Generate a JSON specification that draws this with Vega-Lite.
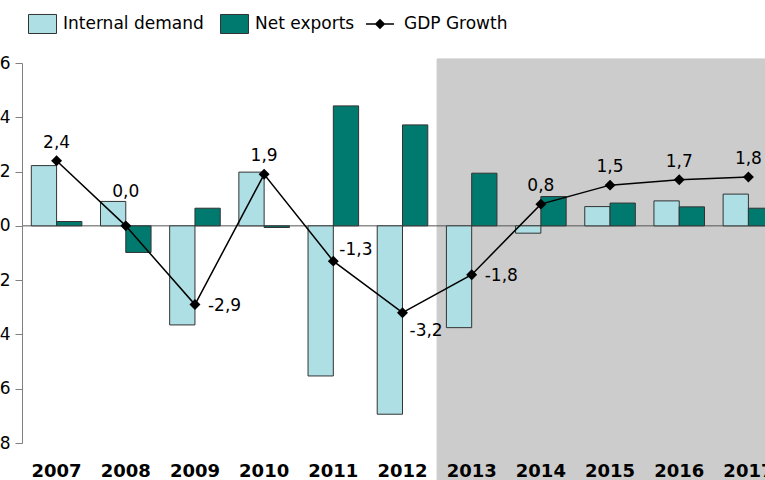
{
  "$schema": "https://vega.github.io/schema/vega-lite/v6.json",
  "width": 743,
  "height": 380,
  "autosize": {"type": "none"},
  "padding": {"left": 22, "top": 63, "right": 0, "bottom": 37},
  "config": {
    "locale": {"number": {"decimal": ",", "thousands": ".", "grouping": [3], "currency": ["", " €"], "minus": "-"}},
    "view": {"stroke": null},
    "font": "DejaVu Sans",
    "axis": {"grid": false}
  },
  "datasets": {
    "bars": [
      {"year": "2007", "series": "Internal demand", "value": 2.22},
      {"year": "2007", "series": "Net exports", "value": 0.16},
      {"year": "2008", "series": "Internal demand", "value": 0.9},
      {"year": "2008", "series": "Net exports", "value": -0.98},
      {"year": "2009", "series": "Internal demand", "value": -3.65},
      {"year": "2009", "series": "Net exports", "value": 0.65},
      {"year": "2010", "series": "Internal demand", "value": 1.98},
      {"year": "2010", "series": "Net exports", "value": -0.06},
      {"year": "2011", "series": "Internal demand", "value": -5.53},
      {"year": "2011", "series": "Net exports", "value": 4.42},
      {"year": "2012", "series": "Internal demand", "value": -6.94},
      {"year": "2012", "series": "Net exports", "value": 3.72},
      {"year": "2013", "series": "Internal demand", "value": -3.75},
      {"year": "2013", "series": "Net exports", "value": 1.94},
      {"year": "2014", "series": "Internal demand", "value": -0.27},
      {"year": "2014", "series": "Net exports", "value": 1.08},
      {"year": "2015", "series": "Internal demand", "value": 0.71},
      {"year": "2015", "series": "Net exports", "value": 0.84},
      {"year": "2016", "series": "Internal demand", "value": 0.92},
      {"year": "2016", "series": "Net exports", "value": 0.7},
      {"year": "2017", "series": "Internal demand", "value": 1.17},
      {"year": "2017", "series": "Net exports", "value": 0.65}
    ],
    "gdp": [
      {"year": "2007", "value": 2.4},
      {"year": "2008", "value": 0.0},
      {"year": "2009", "value": -2.9},
      {"year": "2010", "value": 1.9},
      {"year": "2011", "value": -1.3},
      {"year": "2012", "value": -3.2},
      {"year": "2013", "value": -1.8},
      {"year": "2014", "value": 0.8},
      {"year": "2015", "value": 1.5},
      {"year": "2016", "value": 1.7},
      {"year": "2017", "value": 1.8}
    ]
  },
  "layer": [
    {
      "data": {"name": "gdp"},
      "transform": [{"filter": "toNumber(datum.year) >= 2013"}],
      "mark": {"type": "bar", "color": "#cccccc", "stroke": "#cccccc", "strokeWidth": 1, "clip": false},
      "encoding": {
        "x": {
          "field": "year", "type": "nominal",
          "scale": {"range": [0, 761], "paddingInner": 0, "paddingOuter": 0},
          "axis": {"title": null, "domain": false, "ticks": false, "labelFontSize": 18, "labelFontWeight": "bold", "labelColor": "#000000", "labelPadding": 19, "labelAngle": 0, "zindex": 1, "labelFont": "DejaVu Sans"}
        },
        "y": {"datum": 6.15},
        "y2": {"datum": -9.5}
      }
    },
    {
      "data": {"values": [{}]},
      "mark": {"type": "rule", "color": "#555555", "strokeWidth": 1},
      "encoding": {"y": {"datum": 0}}
    },
    {
      "data": {"name": "bars"},
      "mark": {"type": "bar", "stroke": "#333333", "strokeWidth": 1},
      "encoding": {
        "x": {"field": "year", "type": "nominal"},
        "xOffset": {"field": "series", "type": "nominal", "scale": {"domain": ["Internal demand", "Net exports"], "paddingOuter": 0.368, "paddingInner": 0}},
        "y": {
          "field": "value", "type": "quantitative",
          "scale": {"domain": [-8, 6], "nice": false},
          "axis": {"title": null, "values": [-8, -6, -4, -2, 0, 2, 4, 6], "domainColor": "#808080", "tickColor": "#808080", "tickSize": 7, "labelFontSize": 17, "labelColor": "#000000", "labelPadding": 5, "labelFont": "DejaVu Sans", "zindex": 1}
        },
        "color": {
          "field": "series", "type": "nominal",
          "scale": {"domain": ["Internal demand", "Net exports"], "range": ["#aedfe4", "#007a6e"]},
          "legend": {
            "orient": "none", "legendX": 6, "legendY": -54, "direction": "horizontal", "title": null,
            "symbolType": "M-1,-0.68H1V0.68H-1Z", "symbolSize": 784, "symbolStrokeColor": "#333333", "symbolStrokeWidth": 1, "symbolOpacity": 1,
            "labelFont": "DejaVu Sans", "labelFontSize": 17, "labelColor": "#000000",
            "labelOffset": 6, "columnPadding": 14, "padding": 0
          }
        }
      }
    },
    {
      "data": {"name": "gdp"},
      "mark": {"type": "line", "strokeWidth": 1.5},
      "encoding": {
        "x": {"field": "year", "type": "nominal"},
        "y": {"field": "value", "type": "quantitative"},
        "stroke": {
          "datum": "GDP Growth", "type": "nominal",
          "scale": {"domain": ["GDP Growth"], "range": ["#000000"]},
          "legend": {
            "orient": "none", "legendX": 343, "legendY": -54, "direction": "horizontal", "title": null,
            "symbolType": "M-1,0H1M0,-0.3L0.3,0L0,0.3L-0.3,0Z", "symbolSize": 784, "symbolFillColor": "#000000", "symbolStrokeWidth": 1.5, "symbolOpacity": 1,
            "labelFont": "DejaVu Sans", "labelFontSize": 17, "labelColor": "#000000",
            "labelOffset": 9, "padding": 0
          }
        }
      }
    },
    {
      "data": {"name": "gdp"},
      "mark": {"type": "point", "shape": "diamond", "filled": true, "color": "#000000", "size": 120, "opacity": 1},
      "encoding": {
        "x": {"field": "year", "type": "nominal"},
        "y": {"field": "value", "type": "quantitative"}
      }
    },
    {
      "data": {"name": "gdp"},
      "transform": [{"filter": "indexof(['2007','2010','2014','2015','2016','2017'], datum.year) >= 0"}],
      "mark": {"type": "text", "align": "center", "baseline": "alphabetic", "dy": -13, "fontSize": 17, "color": "#000000", "font": "DejaVu Sans"},
      "encoding": {
        "x": {"field": "year", "type": "nominal"},
        "y": {"field": "value", "type": "quantitative"},
        "text": {"field": "value", "type": "quantitative", "format": ".1f"}
      }
    },
    {
      "data": {"name": "gdp"},
      "transform": [{"filter": "datum.year === '2008'"}],
      "mark": {"type": "text", "align": "center", "baseline": "alphabetic", "dy": -29, "fontSize": 17, "color": "#000000", "font": "DejaVu Sans"},
      "encoding": {
        "x": {"field": "year", "type": "nominal"},
        "y": {"field": "value", "type": "quantitative"},
        "text": {"field": "value", "type": "quantitative", "format": ".1f"}
      }
    },
    {
      "data": {"name": "gdp"},
      "transform": [{"filter": "datum.year === '2009' || datum.year === '2013'"}],
      "mark": {"type": "text", "align": "left", "baseline": "middle", "dx": 13, "dy": 1, "fontSize": 17, "color": "#000000", "font": "DejaVu Sans"},
      "encoding": {
        "x": {"field": "year", "type": "nominal"},
        "y": {"field": "value", "type": "quantitative"},
        "text": {"field": "value", "type": "quantitative", "format": ".1f"}
      }
    },
    {
      "data": {"name": "gdp"},
      "transform": [{"filter": "datum.year === '2011'"}],
      "mark": {"type": "text", "align": "left", "baseline": "middle", "dx": 6, "dy": -11, "fontSize": 17, "color": "#000000", "font": "DejaVu Sans"},
      "encoding": {
        "x": {"field": "year", "type": "nominal"},
        "y": {"field": "value", "type": "quantitative"},
        "text": {"field": "value", "type": "quantitative", "format": ".1f"}
      }
    },
    {
      "data": {"name": "gdp"},
      "transform": [{"filter": "datum.year === '2012'"}],
      "mark": {"type": "text", "align": "left", "baseline": "middle", "dx": 7, "dy": 18, "fontSize": 17, "color": "#000000", "font": "DejaVu Sans"},
      "encoding": {
        "x": {"field": "year", "type": "nominal"},
        "y": {"field": "value", "type": "quantitative"},
        "text": {"field": "value", "type": "quantitative", "format": ".1f"}
      }
    }
  ]
}
